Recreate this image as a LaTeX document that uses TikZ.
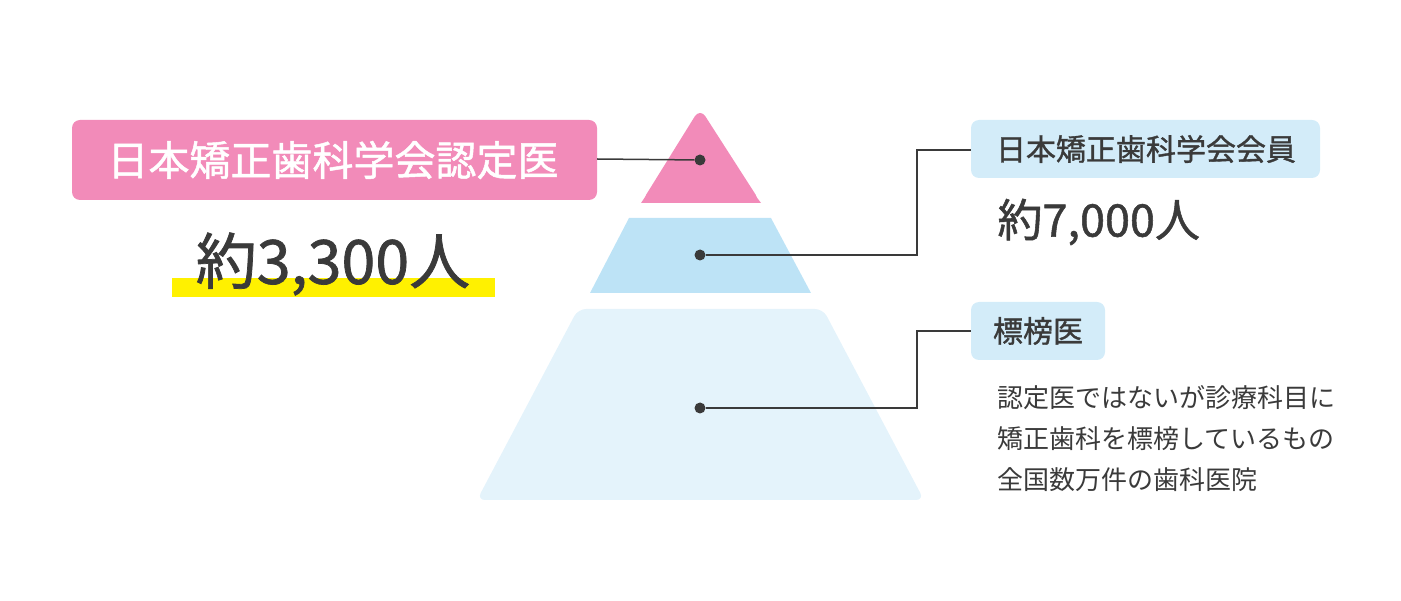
\documentclass[tikz,border=0pt]{standalone}
\usepackage{fontspec}
\setmainfont{Noto Sans CJK JP}
\newfontfamily\bfj[FakeBold=1.2]{Noto Sans CJK JP}
\definecolor{pk}{HTML}{F28BB9}
\definecolor{mb}{HTML}{BDE3F6}
\definecolor{lb}{HTML}{E4F3FB}
\definecolor{bx}{HTML}{D3ECF9}
\definecolor{tx}{HTML}{3A3A3A}
\definecolor{yl}{HTML}{FFF100}
\begin{document}
\begin{tikzpicture}[x=1pt,y=-1pt,
  lbl/.style={rounded corners=7pt,inner sep=0pt,anchor=north west},
  dotn/.style={circle,fill=tx,inner sep=0pt,minimum size=11pt},
  ln/.style={draw=tx,line width=1.5pt}]
\useasboundingbox (0,0) rectangle (1401,601);
\fill[pk,rounded corners=10pt] (700,108) -- (761,203) -- (641,203) -- cycle;
\fill[pk] (641,203) -- (761,203) -- (740,175) -- (660,175) -- cycle;
\fill[mb] (629,218) -- (771,218) -- (811,293) -- (590,293) -- cycle;
\fill[lb,rounded corners=8pt] (578,309) -- (823,309) -- (924,500) -- (477,500) -- cycle;
\node[dotn] (d1) at (700,160) {};
\node[dotn] (d2) at (700,255) {};
\node[dotn] (d3) at (700,408) {};
\fill[pk,rounded corners=8pt] (72,120) rectangle (597,200);
\node[text=white,font=\bfj\fontsize{41}{44}\selectfont] (t1) at (333,160) {日本矯正歯科学会認定医};
\coordinate (p1) at (597,159);
\draw[ln] (p1) -- (d1);
\fill[yl] (172,278) rectangle (495,297);
\node[text=tx,font=\bfj\fontsize{61}{64}\selectfont] (n1) at (333,264) {約3,300人};
\fill[bx,rounded corners=8pt] (971,120) rectangle (1320,178);
\node[text=tx,font=\bfj\fontsize{30}{34}\selectfont] (t2) at (1146,149) {日本矯正歯科学会会員};
\node[text=tx,font=\bfj\fontsize{45}{48}\selectfont,anchor=west] (n2) at (994,222) {約7,000人};
\coordinate (c2) at (971,150);
\draw[ln] (d2) -- (917,255) -- (917,150) -- (c2);
\fill[bx,rounded corners=8pt] (971,302) rectangle (1105,360);
\node[text=tx,font=\bfj\fontsize{30}{34}\selectfont] (t3) at (1038,331) {標榜医};
\coordinate (c3) at (971,331);
\draw[ln] (d3) -- (917,408) -- (917,331) -- (c3);
\node[text=tx,font=\fontsize{26}{41}\selectfont,anchor=north west,align=left,inner sep=0pt] (t4) at (997,385)
 {認定医ではないが診療科目に\\矯正歯科を標榜しているもの\\全国数万件の歯科医院};
\end{tikzpicture}
\end{document}
